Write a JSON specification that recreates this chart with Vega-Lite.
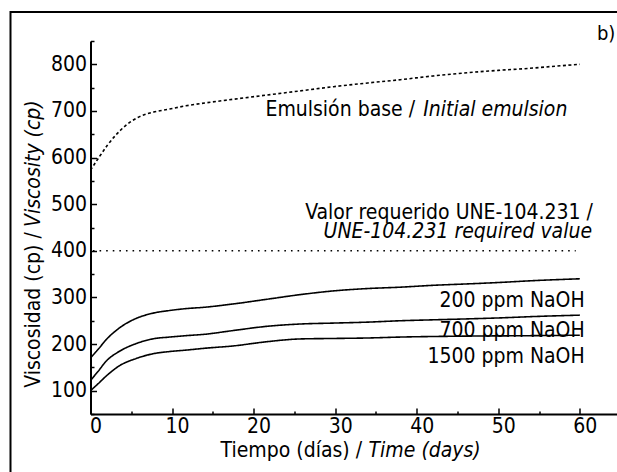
{
  "$schema": "https://vega.github.io/schema/vega-lite/v6.json",
  "width": 526,
  "height": 373,
  "autosize": {"type": "none"},
  "padding": {"left": 90.5, "top": 41, "right": 0, "bottom": 58},
  "background": "white",
  "config": {
    "view": {"stroke": null},
    "font": "DejaVu Sans Condensed",
    "text": {"font": "DejaVu Sans Condensed", "color": "black", "fontSize": 21}
  },
  "encoding": {
    "x": {
      "field": "t", "type": "quantitative",
      "scale": {"domain": [0, 64.5], "nice": false, "zero": false},
      "axis": {
        "title": null, "grid": false, "orient": "bottom",
        "values": [0, 5, 10, 15, 20, 25, 30, 35, 40, 45, 50, 55, 60],
        "labelExpr": "datum.value % 10 === 0 ? datum.label : ''",
        "tickSize": {"condition": {"test": "datum.value % 10 === 0", "value": -6}, "value": -3},
        "domainWidth": 2, "domainColor": "black", "tickColor": "black", "tickWidth": 1.5,
        "labelFont": "DejaVu Sans Condensed", "labelFontSize": 21, "labelColor": "black",
        "labelPadding": 7, "labelOffset": 5, "labelFlush": false, "labelOverlap": false
      }
    },
    "y": {
      "field": "v", "type": "quantitative",
      "scale": {"domain": [50, 850], "nice": false, "zero": false},
      "axis": {
        "title": null, "grid": false, "orient": "left",
        "values": [50, 100, 150, 200, 250, 300, 350, 400, 450, 500, 550, 600, 650, 700, 750, 800, 850],
        "labelExpr": "datum.value % 100 === 0 ? datum.label : ''",
        "tickSize": {"condition": {"test": "datum.value % 100 === 0", "value": -6}, "value": -3.5},
        "domainWidth": 2, "domainColor": "black", "tickColor": "black", "tickWidth": 1.5,
        "labelFont": "DejaVu Sans Condensed", "labelFontSize": 21, "labelColor": "black",
        "labelPadding": 10, "labelFlush": false, "labelOverlap": false
      }
    }
  },
  "layer": [
    {
      "data": {"values": [
        {"series": "Emulsión base", "t": 0, "v": 573},
        {"series": "Emulsión base", "t": 1.1, "v": 602},
        {"series": "Emulsión base", "t": 2.1, "v": 627},
        {"series": "Emulsión base", "t": 3.1, "v": 648},
        {"series": "Emulsión base", "t": 4.4, "v": 670},
        {"series": "Emulsión base", "t": 5.8, "v": 686},
        {"series": "Emulsión base", "t": 7.6, "v": 697},
        {"series": "Emulsión base", "t": 9.7, "v": 704},
        {"series": "Emulsión base", "t": 11.7, "v": 711},
        {"series": "Emulsión base", "t": 14, "v": 717},
        {"series": "Emulsión base", "t": 17.5, "v": 725},
        {"series": "Emulsión base", "t": 21.6, "v": 734},
        {"series": "Emulsión base", "t": 25.7, "v": 743},
        {"series": "Emulsión base", "t": 29.8, "v": 752},
        {"series": "Emulsión base", "t": 34, "v": 760},
        {"series": "Emulsión base", "t": 38, "v": 767},
        {"series": "Emulsión base", "t": 42, "v": 775},
        {"series": "Emulsión base", "t": 46.2, "v": 782},
        {"series": "Emulsión base", "t": 50, "v": 787},
        {"series": "Emulsión base", "t": 54.3, "v": 792},
        {"series": "Emulsión base", "t": 57, "v": 796},
        {"series": "Emulsión base", "t": 60, "v": 800},
        {"series": "200 ppm NaOH", "t": 0, "v": 170},
        {"series": "200 ppm NaOH", "t": 1, "v": 190},
        {"series": "200 ppm NaOH", "t": 1.9, "v": 209},
        {"series": "200 ppm NaOH", "t": 3.5, "v": 234},
        {"series": "200 ppm NaOH", "t": 5.6, "v": 255},
        {"series": "200 ppm NaOH", "t": 7.6, "v": 266},
        {"series": "200 ppm NaOH", "t": 9.7, "v": 272},
        {"series": "200 ppm NaOH", "t": 11.7, "v": 276},
        {"series": "200 ppm NaOH", "t": 14, "v": 279},
        {"series": "200 ppm NaOH", "t": 17.5, "v": 286},
        {"series": "200 ppm NaOH", "t": 21.6, "v": 296},
        {"series": "200 ppm NaOH", "t": 25.7, "v": 306},
        {"series": "200 ppm NaOH", "t": 29.8, "v": 314},
        {"series": "200 ppm NaOH", "t": 33.9, "v": 319},
        {"series": "200 ppm NaOH", "t": 38, "v": 322},
        {"series": "200 ppm NaOH", "t": 42, "v": 326},
        {"series": "200 ppm NaOH", "t": 46.2, "v": 329},
        {"series": "200 ppm NaOH", "t": 50, "v": 332},
        {"series": "200 ppm NaOH", "t": 54.3, "v": 336},
        {"series": "200 ppm NaOH", "t": 60, "v": 340},
        {"series": "700 ppm NaOH", "t": 0, "v": 122},
        {"series": "700 ppm NaOH", "t": 1, "v": 143},
        {"series": "700 ppm NaOH", "t": 1.9, "v": 163},
        {"series": "700 ppm NaOH", "t": 3.5, "v": 184},
        {"series": "700 ppm NaOH", "t": 5.6, "v": 201},
        {"series": "700 ppm NaOH", "t": 7.6, "v": 211},
        {"series": "700 ppm NaOH", "t": 9.7, "v": 215},
        {"series": "700 ppm NaOH", "t": 11.7, "v": 218},
        {"series": "700 ppm NaOH", "t": 14, "v": 221},
        {"series": "700 ppm NaOH", "t": 17.5, "v": 229},
        {"series": "700 ppm NaOH", "t": 21.6, "v": 238},
        {"series": "700 ppm NaOH", "t": 25.7, "v": 243},
        {"series": "700 ppm NaOH", "t": 29.8, "v": 245},
        {"series": "700 ppm NaOH", "t": 33.9, "v": 247},
        {"series": "700 ppm NaOH", "t": 38, "v": 250},
        {"series": "700 ppm NaOH", "t": 42, "v": 252},
        {"series": "700 ppm NaOH", "t": 46.2, "v": 254},
        {"series": "700 ppm NaOH", "t": 50, "v": 256},
        {"series": "700 ppm NaOH", "t": 54.3, "v": 259},
        {"series": "700 ppm NaOH", "t": 60, "v": 262},
        {"series": "1500 ppm NaOH", "t": 0, "v": 100},
        {"series": "1500 ppm NaOH", "t": 1, "v": 116},
        {"series": "1500 ppm NaOH", "t": 1.9, "v": 131},
        {"series": "1500 ppm NaOH", "t": 3.5, "v": 153},
        {"series": "1500 ppm NaOH", "t": 5.6, "v": 169},
        {"series": "1500 ppm NaOH", "t": 7.6, "v": 179},
        {"series": "1500 ppm NaOH", "t": 9.7, "v": 184},
        {"series": "1500 ppm NaOH", "t": 11.7, "v": 187},
        {"series": "1500 ppm NaOH", "t": 14, "v": 191},
        {"series": "1500 ppm NaOH", "t": 17.5, "v": 196},
        {"series": "1500 ppm NaOH", "t": 21.6, "v": 205},
        {"series": "1500 ppm NaOH", "t": 25.7, "v": 211},
        {"series": "1500 ppm NaOH", "t": 29.8, "v": 212},
        {"series": "1500 ppm NaOH", "t": 33.9, "v": 213},
        {"series": "1500 ppm NaOH", "t": 38, "v": 215},
        {"series": "1500 ppm NaOH", "t": 46, "v": 217},
        {"series": "1500 ppm NaOH", "t": 54, "v": 218},
        {"series": "1500 ppm NaOH", "t": 60, "v": 219}
      ]},
      "mark": {"type": "line", "interpolate": "monotone", "color": "black", "strokeWidth": 1.6},
      "encoding": {
        "detail": {"field": "series"},
        "strokeDash": {
          "field": "series", "type": "nominal",
          "scale": {"domain": ["Emulsión base", "200 ppm NaOH", "700 ppm NaOH", "1500 ppm NaOH"], "range": [[3, 2.5], [1, 0], [1, 0], [1, 0]]},
          "legend": null
        }
      }
    },
    {
      "data": {"values": [{"t": -9.81, "t2": 80, "v": 912, "v2": -300}]},
      "mark": {"type": "rect", "fill": null, "stroke": "black", "strokeWidth": 2, "clip": false},
      "encoding": {
        "x2": {"field": "t2"},
        "y2": {"field": "v2"}
      }
    },
    {
      "data": {"values": [{"t": 0.3, "t2": 59.5, "v": 400}]},
      "mark": {"type": "rule", "color": "black", "strokeWidth": 1.6, "strokeDash": [1.6, 5]},
      "encoding": {
        "x2": {"field": "t2"}
      }
    },
    {
      "data": {"values": [
        {"t": 39.8, "v": 689, "label": "Emulsión base /"},
        {"t": 61.6, "v": 468, "label": "Valor requerido UNE-104.231 /"},
        {"t": 60.6, "v": 280, "label": "200 ppm NaOH"},
        {"t": 60.6, "v": 216, "label": "700 ppm NaOH"},
        {"t": 60.6, "v": 160, "label": "1500 ppm NaOH"},
        {"t": 33.3, "v": -42, "label": "Tiempo (días) /"}
      ]},
      "mark": {"type": "text", "align": "right", "baseline": "alphabetic", "clip": false},
      "encoding": {"text": {"field": "label"}}
    },
    {
      "data": {"values": [
        {"t": 40.8, "v": 689, "label": "Initial emulsion"},
        {"t": 34.1, "v": -42, "label": "Time (days)"}
      ]},
      "mark": {"type": "text", "align": "left", "baseline": "alphabetic", "fontStyle": "italic", "clip": false},
      "encoding": {"text": {"field": "label"}}
    },
    {
      "data": {"values": [{"t": 61.5, "v": 427.5, "label": "UNE-104.231 required value"}]},
      "mark": {"type": "text", "align": "right", "baseline": "alphabetic", "fontStyle": "italic", "clip": false},
      "encoding": {"text": {"field": "label"}}
    },
    {
      "data": {"values": [{"t": -6.19, "v": 440, "label": "Viscosidad (cp) /"}]},
      "mark": {"type": "text", "align": "right", "baseline": "alphabetic", "angle": 270, "clip": false},
      "encoding": {"text": {"field": "label"}}
    },
    {
      "data": {"values": [{"t": -6.19, "v": 451, "label": "Viscosity (cp)"}]},
      "mark": {"type": "text", "align": "left", "baseline": "alphabetic", "angle": 270, "fontStyle": "italic", "clip": false},
      "encoding": {"text": {"field": "label"}}
    },
    {
      "data": {"values": [{"t": 62.1, "v": 852, "label": "b)"}]},
      "mark": {"type": "text", "align": "left", "baseline": "alphabetic", "fontSize": 20, "clip": false},
      "encoding": {"text": {"field": "label"}}
    }
  ]
}
